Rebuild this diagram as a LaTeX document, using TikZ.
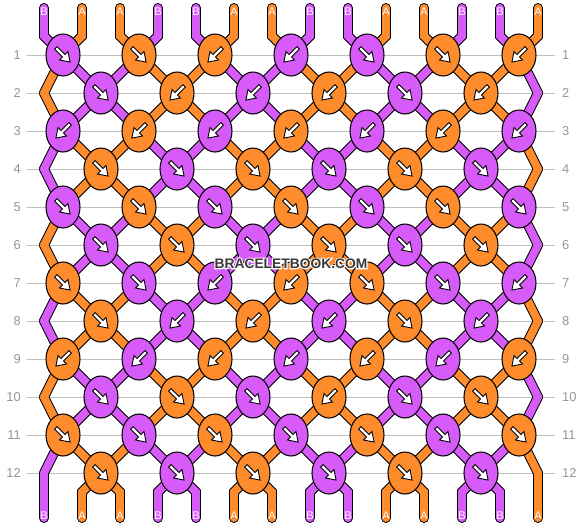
\documentclass[tikz,border=0pt]{standalone}
\usepackage{fontspec}
\setmainfont{Liberation Sans}
\newfontfamily\markface{Liberation Sans Bold}
\newfontfamily\markhalo{Liberation Sans Bold}[FakeBold=16]
\usetikzlibrary{shapes.geometric}

\definecolor{O}{RGB}{254,140,44}
\definecolor{P}{RGB}{214,91,248}
\definecolor{gridgray}{RGB}{192,192,192}
\definecolor{numgray}{RGB}{150,150,150}
\definecolor{markgray}{RGB}{58,58,58}

\pgfdeclarelayer{strands}
\pgfsetlayers{strands,main}

\tikzset{
  knot/.style={ellipse, draw=black, line width=0.9pt, inner sep=0pt,
    minimum width=1.02cm, minimum height=1.26cm},
  fwd/.style={},
  bwd/.style={xscale=-1},
  knotarrow/.pic={
    \filldraw[fill=white, draw=black, line width=0.75pt]
      (-5.8,-8.34) -- (1.98,-0.57) -- (4.95,-3.54) -- (7.07,7.07)
      -- (-3.54,4.95) -- (-0.57,1.98) -- (-8.34,-5.8) -- cycle;
  },
  strand/.style={line cap=round},
  rownum/.style={numgray, inner sep=0pt, font=\fontsize{11}{11}\selectfont},
  endlabel/.style={white, inner sep=0pt, font=\fontsize{9.5}{9.5}\selectfont},
}

\begin{document}
\begin{tikzpicture}[x=0.03cm, y=-0.03cm]
  \useasboundingbox (0,0) rectangle (582,528);

  % knots, row by row
  \foreach \r/\knots in {
      1/{P/fwd,O/fwd,O/bwd,P/bwd,P/fwd,O/fwd,O/bwd},
      2/{P/fwd,O/bwd,P/bwd,O/bwd,P/fwd,O/bwd},
      3/{P/bwd,O/bwd,P/bwd,O/bwd,P/bwd,O/bwd,P/bwd},
      4/{O/fwd,P/fwd,O/fwd,P/fwd,O/fwd,P/fwd},
      5/{P/fwd,O/fwd,P/fwd,O/fwd,P/fwd,O/fwd,P/fwd},
      6/{P/fwd,O/fwd,P/fwd,O/fwd,P/fwd,O/fwd},
      7/{O/fwd,P/fwd,P/bwd,O/bwd,O/fwd,P/fwd,P/bwd},
      8/{O/fwd,P/bwd,O/bwd,P/bwd,O/fwd,P/bwd},
      9/{O/bwd,P/bwd,O/bwd,P/bwd,O/bwd,P/bwd,O/bwd},
      10/{P/fwd,O/fwd,P/fwd,O/bwd,P/fwd,O/fwd},
      11/{O/fwd,P/fwd,O/fwd,P/fwd,O/fwd,P/fwd,O/fwd},
      12/{O/fwd,P/fwd,O/fwd,P/fwd,O/fwd,P/fwd}} {
    \pgfmathtruncatemacro\y{55+38*(\r-1)}
    \pgfmathtruncatemacro\x{isodd(\r) ? 63 : 101}
    \foreach \col/\dir [count=\k] in \knots {
      \node[knot, fill=\col] (k\r-\k) at ({\x+76*(\k-1)}, \y) {};
      \pic[\dir] at (k\r-\k) {knotarrow};
    }
    \node[rownum, anchor=east] (nl\r) at (21, \y) {\r};
    \node[rownum, anchor=west] (nr\r) at (562, \y) {\r};
  }

  % edge strings bend out in the even rows
  \foreach \r in {2,4,...,12} {
    \coordinate (k\r-0) at (44, {55+38*(\r-1)});
    \coordinate (k\r-7) at (538, {55+38*(\r-1)});
  }

  % loose ends
  \foreach \p in {1,...,14} {
    \pgfmathtruncatemacro\xp{44+38*(\p-1)}
    \pgfmathtruncatemacro\isB{mod(\p,4)<=1}
    \coordinate (top\p) at (\xp, 8);
    \coordinate (tb\p) at (\xp, 36);
    \coordinate (bb\p) at (\xp, 492);
    \coordinate (bot\p) at (\xp, 518);
    \ifnum\isB=1 \def\lab{B}\else\def\lab{A}\fi
    \node[endlabel] (lt\p) at (\xp, 12) {\lab};
    \node[endlabel] (lb\p) at (\xp, 516) {\lab};
  }

  % watermark with a white halo
  \node[white, font=\markhalo\fontsize{11.8}{12}\selectfont] (halo) at (291, 263.5)
    {BRACELETBOOK.COM};
  \node[markgray, font=\markface\fontsize{11.8}{12}\selectfont] (mark) at (halo)
    {BRACELETBOOK.COM};

  \begin{pgfonlayer}{strands}
    \foreach \r in {1,...,12}
      \draw[gridgray, line width=0.8pt, shorten <=0.18cm, shorten >=0.21cm]
        (nl\r.east) -- (nr\r.west);

    % black rims first, then the coloured strands on top
    \foreach \pass/\w in {0/8.5pt, 1/6.8pt} {
      \foreach \p in {1,...,14} {
        \pgfmathtruncatemacro\a{(\p+1)/2}
        \pgfmathtruncatemacro\b{\p/2}
        \pgfmathtruncatemacro\isB{mod(\p,4)<=1}
        \ifnum\pass=0 \def\col{black}\else
          \ifnum\isB=1 \def\col{P}\else\def\col{O}\fi\fi
        \draw[strand, line width=\w, \col] (top\p) -- (tb\p) -- (k1-\a.center);
        \draw[strand, line width=\w, \col] (k12-\b.center) -- (bb\p) -- (bot\p);
        \foreach \r in {1,...,11} {
          \pgfmathtruncatemacro\s{\r+1}
          \pgfmathtruncatemacro\a{isodd(\r) ? (\p+1)/2 : \p/2}
          \pgfmathtruncatemacro\b{isodd(\s) ? (\p+1)/2 : \p/2}
          \pgfmathtruncatemacro\isB{(mod(\p,4)<=1) == (mod(\r+1,4)<=1)}
          \ifnum\pass=0 \def\col{black}\else
            \ifnum\isB=1 \def\col{P}\else\def\col{O}\fi\fi
          \draw[strand, line width=\w, \col] (k\r-\a.center) -- (k\s-\b.center);
        }
      }
    }
  \end{pgfonlayer}
\end{tikzpicture}
\end{document}
